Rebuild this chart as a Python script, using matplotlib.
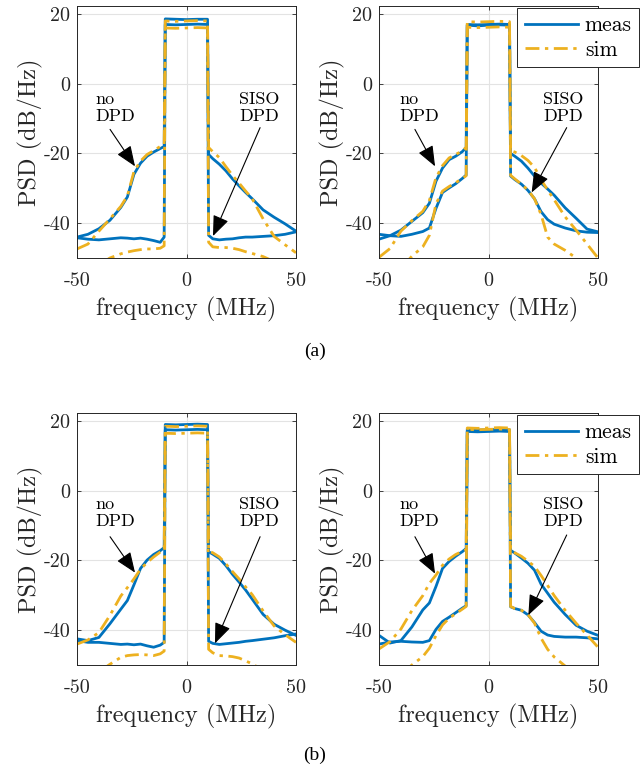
import matplotlib
matplotlib.use('Agg')
import matplotlib.pyplot as plt

# frequency grid (MHz), shared by all curves
freq = [-50, -45, -40, -35, -30, -27, -24, -21, -18, -15, -12, -10.2,
        -9.7, -5, 0, 5, 9.6,
        10.1, 12, 15, 18, 21, 24, 27, 30, 35, 40, 45, 50]

# (a) left
a1_nodpd_meas = [-44.0, -43.2, -41.6, -39.2, -35.5, -32.5, -26.0, -22.8, -20.8, -19.6, -18.6, -18.0,
                 18.6, 18.5, 18.4, 18.5, 18.5,
                 -20.3, -21.5, -23.1, -25.0, -27.3, -29.3, -31.2, -33.0, -36.2, -38.3, -40.2, -42.3]
a1_nodpd_sim = [-47.4, -46.0, -42.3, -38.8, -35.2, -32.2, -25.2, -22.2, -20.3, -19.2, -18.0, -17.5,
                18.0, 17.9, 18.0, 18.1, 18.0,
                -18.3, -19.5, -21.2, -23.8, -26.3, -28.5, -30.8, -33.0, -38.8, -43.8, -46.2, -48.5]
a1_siso_meas = [-44.2, -44.6, -44.8, -44.5, -44.2, -44.3, -44.5, -44.3, -44.6, -45.0, -45.5, -44.0,
                17.0, 16.9, 17.0, 17.1, 17.0,
                -43.5, -44.5, -44.8, -44.6, -44.5, -44.2, -44.0, -44.0, -43.8, -43.6, -43.2, -42.5]
a1_siso_sim = [-55.0, -54.0, -52.0, -50.0, -48.8, -48.3, -47.9, -47.6, -47.4, -47.4, -47.2, -46.5,
               16.0, 15.9, 16.0, 16.1, 16.0,
               -45.5, -46.8, -47.0, -47.0, -47.2, -47.6, -48.2, -48.7, -49.6, -51.0, -53.0, -54.0]

# (a) right
a2_nodpd_meas = [-44.6, -43.6, -42.0, -39.5, -37.0, -34.3, -28.0, -24.2, -21.8, -20.8, -19.5, -18.3,
                 17.0, 16.9, 17.0, 17.1, 17.0,
                 -20.0, -20.8, -22.2, -24.2, -26.5, -28.5, -30.2, -32.0, -35.6, -38.6, -41.7, -42.5]
a2_nodpd_sim = [-49.8, -47.3, -42.3, -39.3, -36.6, -33.5, -27.0, -23.5, -21.3, -20.3, -19.3, -18.2,
                17.8, 17.7, 17.8, 17.9, 17.8,
                -19.2, -19.6, -20.6, -22.0, -24.0, -27.5, -30.5, -33.3, -38.2, -42.0, -46.0, -50.0]
a2_siso_meas = [-43.2, -43.6, -43.8, -43.2, -42.4, -41.4, -35.8, -31.2, -29.9, -28.7, -27.2, -26.2,
                16.8, 16.6, 16.8, 16.9, 16.8,
                -26.5, -27.5, -28.8, -30.6, -33.0, -36.7, -39.0, -40.3, -41.4, -42.2, -42.6, -42.7]
a2_siso_sim = [-57.0, -55.0, -53.0, -49.5, -46.8, -43.5, -34.5, -30.8, -29.5, -28.4, -27.2, -26.4,
               16.2, 16.1, 16.2, 16.3, 16.2,
               -26.3, -27.3, -28.8, -30.5, -33.0, -37.5, -44.0, -46.0, -47.8, -50.0, -53.0, -55.0]

# (b) left
b1_nodpd_meas = [-42.5, -43.0, -42.1, -38.2, -34.0, -31.5, -27.0, -22.3, -19.9, -18.3, -17.2, -16.3,
                 19.0, 18.9, 19.0, 19.1, 19.0,
                 -17.5, -18.2, -19.4, -21.5, -24.0, -26.2, -28.5, -31.1, -35.5, -38.3, -40.0, -41.5]
b1_nodpd_sim = [-44.0, -42.8, -40.7, -35.8, -30.2, -27.8, -25.3, -22.5, -20.6, -19.0, -17.6, -17.0,
                18.5, 18.4, 18.5, 18.6, 18.5,
                -17.3, -17.8, -19.0, -21.0, -23.2, -25.3, -27.6, -29.8, -34.5, -38.8, -41.3, -43.5]
b1_siso_meas = [-43.0, -43.5, -43.5, -43.8, -44.1, -44.0, -44.2, -44.0, -44.5, -44.9, -44.3, -43.5,
                17.5, 17.4, 17.5, 17.6, 17.5,
                -43.2, -43.8, -44.1, -43.9, -43.7, -43.5, -43.2, -43.0, -42.6, -42.2, -41.6, -41.1]
b1_siso_sim = [-56.0, -54.0, -52.0, -49.8, -47.8, -47.3, -47.1, -47.0, -47.1, -47.3, -46.8, -46.0,
               16.5, 16.4, 16.5, 16.6, 16.5,
               -45.5, -46.5, -47.3, -47.4, -47.6, -48.0, -48.8, -49.7, -51.5, -53.0, -54.0, -55.0]

# (b) right
b2_nodpd_meas = [-41.5, -43.7, -43.0, -39.1, -34.2, -32.2, -27.5, -22.3, -20.3, -18.8, -17.5, -16.6,
                 17.5, 17.4, 17.5, 17.6, 17.5,
                 -17.1, -17.9, -19.3, -20.8, -22.8, -26.8, -29.4, -32.0, -35.5, -38.6, -40.3, -41.5]
b2_nodpd_sim = [-45.4, -43.3, -39.7, -34.4, -30.1, -26.6, -24.2, -21.4, -19.6, -18.3, -17.4, -17.0,
                18.0, 17.9, 18.0, 18.1, 18.0,
                -17.0, -17.8, -18.8, -20.2, -21.7, -24.3, -27.2, -30.1, -34.3, -38.0, -41.4, -44.9]
b2_siso_meas = [-44.0, -43.4, -43.2, -43.4, -43.5, -43.0, -39.8, -37.5, -36.3, -35.0, -33.7, -33.0,
                17.0, 16.9, 17.0, 17.1, 17.0,
                -33.3, -33.8, -34.3, -35.6, -37.8, -40.3, -41.4, -41.8, -42.0, -42.0, -42.2, -42.5]
b2_siso_sim = [-57.0, -55.0, -53.0, -50.0, -47.6, -45.2, -41.6, -38.5, -36.6, -35.3, -34.0, -33.2,
               17.6, 17.5, 17.6, 17.7, 17.6,
               -33.2, -33.8, -34.3, -35.5, -38.0, -42.3, -45.5, -47.7, -50.3, -53.0, -55.0, -57.0]

x_ticks = [-50, 0, 50]
x_ticklabels = ['-50', '0', '50']
y_ticks = [-40, -20, 0, 20]
y_ticklabels = ['-40', '-20', '0', '20']

BLUE = '#0072BD'
YELLOW = '#EDB120'
CM = 'cmr10'

# arrow tails / tips and text corners in data units, per panel
notes = {
    'a1': dict(no_txt=(-41.8, -2.3), no_tail=(-34.9, -13.1), no_tip=(-23.5, -23.7),
               siso_txt=(24.0, -2.3), siso_tail=(33.6, -12.6), siso_tip=(12.1, -43.7)),
    'a2': dict(no_txt=(-40.9, -2.3), no_tail=(-33.6, -13.1), no_tip=(-24.4, -23.7),
               siso_txt=(24.9, -2.3), siso_tail=(35.7, -12.6), siso_tip=(19.7, -31.2)),
    'b1': dict(no_txt=(-41.8, -1.8), no_tail=(-34.9, -13.2), no_tip=(-23.5, -23.5),
               siso_txt=(24.0, -1.8), siso_tail=(33.6, -13.2), siso_tip=(13.0, -43.8)),
    'b2': dict(no_txt=(-40.9, -1.8), no_tail=(-33.6, -13.2), no_tip=(-24.4, -23.8),
               siso_txt=(24.9, -1.8), siso_tail=(35.7, -12.7), siso_tip=(18.2, -35.7)),
}


def draw_panel(ax, meas, sim, note, legend=False):
    for y in meas:
        ax.plot(freq, y, color=BLUE, lw=2.0, label='meas')
    for y in sim:
        ax.plot(freq, y, color=YELLOW, lw=2.0, dashes=(5, 2, 1.2, 2), label='sim')

    ax.set_xlim(-50, 50)
    ax.set_ylim(-50, 22.3)
    ax.set_xticks(x_ticks)
    ax.set_xticklabels(x_ticklabels, fontfamily=CM, fontsize=14.5)
    ax.set_yticks(y_ticks)
    ax.set_yticklabels(y_ticklabels, fontfamily=CM, fontsize=14.5)
    ax.tick_params(direction='in', length=3, width=0.6, top=True, right=True,
                   color='#262626', labelcolor='#262626', pad=5)
    ax.tick_params(axis='x', pad=10)
    ax.grid(True, color='#e3e3e3', lw=0.8)
    ax.set_axisbelow(True)
    for s in ax.spines.values():
        s.set_color('#262626')
        s.set_linewidth(0.7)
    ax.set_xlabel('frequency (MHz)', fontfamily=CM, fontsize=17.5, color='#262626', labelpad=5)
    ax.set_ylabel('PSD (dB/Hz)', fontfamily=CM, fontsize=17.5, color='#262626', labelpad=0)

    aprops = dict(arrowstyle='-|>,head_length=0.7,head_width=0.28', mutation_scale=18,
                  lw=0.8, color='k', shrinkA=0, shrinkB=0)
    ax.annotate('', xy=note['no_tip'], xytext=note['no_tail'], arrowprops=aprops)
    ax.annotate('', xy=note['siso_tip'], xytext=note['siso_tail'], arrowprops=aprops)
    ax.text(*note['no_txt'], 'no\nDPD', fontfamily=CM, fontsize=13, ha='left', va='top',
            linespacing=1.1)
    ax.text(*note['siso_txt'], 'SISO\nDPD', fontfamily=CM, fontsize=13, ha='left', va='top',
            linespacing=1.1)

    if legend:
        h, l = ax.get_legend_handles_labels()
        leg = ax.legend([h[0], h[2]], [l[0], l[2]], loc='upper left',
                        bbox_to_anchor=(0.63, 0.992), borderaxespad=0,
                        prop={'family': CM, 'size': 15.5}, handlelength=2.5,
                        labelspacing=0.25, handletextpad=0.3, borderpad=0.35,
                        fancybox=False, framealpha=1, edgecolor='#262626')
        leg.get_frame().set_linewidth(0.7)


fig = plt.figure(figsize=(6.41, 7.69), dpi=100)
W, H = 641, 769
ax_w, ax_h = 219 / W, 252 / H
ax_a1 = fig.add_axes([77 / W, 1 - 258 / H, ax_w, ax_h])
ax_a2 = fig.add_axes([379 / W, 1 - 258 / H, ax_w, ax_h])
ax_b1 = fig.add_axes([77 / W, 1 - 665 / H, ax_w, ax_h])
ax_b2 = fig.add_axes([379 / W, 1 - 665 / H, ax_w, ax_h])

draw_panel(ax_a1, [a1_nodpd_meas, a1_siso_meas], [a1_nodpd_sim, a1_siso_sim], notes['a1'])
draw_panel(ax_a2, [a2_nodpd_meas, a2_siso_meas], [a2_nodpd_sim, a2_siso_sim], notes['a2'], legend=True)
draw_panel(ax_b1, [b1_nodpd_meas, b1_siso_meas], [b1_nodpd_sim, b1_siso_sim], notes['b1'])
draw_panel(ax_b2, [b2_nodpd_meas, b2_siso_meas], [b2_nodpd_sim, b2_siso_sim], notes['b2'], legend=True)

fig.text(315 / W, 1 - 351 / H, '(a)', family='Liberation Serif', fontsize=14, ha='center', va='center')
fig.text(315 / W, 1 - 755 / H, '(b)', family='Liberation Serif', fontsize=14, ha='center', va='center')

fig.savefig('out.png', dpi=100)
